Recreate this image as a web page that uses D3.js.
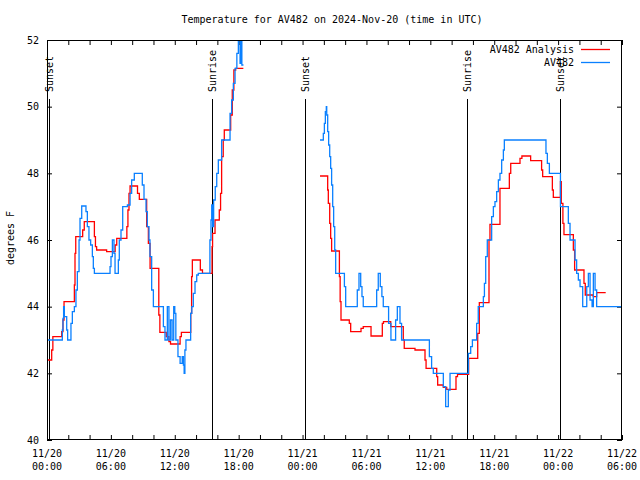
<!DOCTYPE html>
<html>
<head>
<meta charset="utf-8">
<script src="https://cdn.jsdelivr.net/npm/d3@7"></script>
<style>
  html, body { margin: 0; padding: 0; background: #fff; }
  svg { display: block; }
  text { font-family: "DejaVu Sans Mono", "Liberation Mono", monospace; font-size: 10px; fill: #000; }
</style>
</head>
<body>
<svg id="chart" width="640" height="480"></svg>
<script>
// ---------------- DATA ----------------
const chartTitle = "Temperature for AV482 on 2024-Nov-20 (time in UTC)";
const yAxisLabel = "degrees F";
const seriesNames = ["AV482 Analysis", "AV482"];
const seriesColors = ["#ff0000", "#0a80ff"];
const startUTC = Date.UTC(2024, 10, 20, 0, 0); // 11/20 00:00 UTC
const spanHours = 54;
const yTicks = [40, 42, 44, 46, 48, 50, 52];
const xTickHours = [0, 6, 12, 18, 24, 30, 36, 42, 48, 54];
const xTickLabels = ["11/20\n00:00", "11/20\n06:00", "11/20\n12:00", "11/20\n18:00", "11/21\n00:00",
                     "11/21\n06:00", "11/21\n12:00", "11/21\n18:00", "11/22\n00:00", "11/22\n06:00"];
const sunEventLabels = ["Sunset", "Sunrise", "Sunset", "Sunrise", "Sunset"];
const sunEventHours = [0.22, 15.52, 24.23, 39.47, 48.18];

// series values: [hours since 11/20 00:00 UTC, temperature °F]
const analysis1 = [
  [0.00,42.4],[0.44,42.7],[0.55,43.1],[1.38,43.25],[1.50,43.6],[1.60,44.15],[2.57,44.65],[2.63,45.6],
  [2.70,46.1],[3.35,46.3],[3.50,46.55],[4.45,46.1],[4.55,45.8],[4.66,45.7],[5.60,45.65],[6.40,45.85],
  [6.55,46.05],[7.50,46.4],[7.60,46.9],[7.70,47.4],[7.80,47.62],[8.50,47.4],[8.67,47.22],[9.36,46.4],
  [9.52,45.9],[9.68,45.15],[10.50,43.75],[10.60,43.23],[11.20,43.1],[11.45,42.95],[11.60,42.88],
  [12.50,43.1],[12.62,43.23],[13.50,43.8],[13.58,44.9],[13.65,45.4],[14.40,45.1],[14.60,45.0],
  [15.50,45.8],[15.55,46.2],[15.78,46.6],[16.18,46.9],[16.30,47.4],[16.40,48.5],[16.55,49.0],
  [16.65,49.3],[17.25,49.75],[17.40,50.5],[17.55,51.1],[17.72,51.15],[18.44,51.15]
];
const analysis2 = [
  [25.64,47.92],[26.36,47.5],[26.42,47.1],[26.55,46.5],[26.64,46.05],[26.73,45.67],[27.46,44.9],
  [27.53,44.15],[27.61,43.6],[28.39,43.5],[28.52,43.25],[29.49,43.35],[29.70,43.4],[30.43,43.12],
  [31.49,43.5],[31.60,43.55],[32.28,43.4],[33.46,43.0],[33.55,42.75],[34.56,42.7],[35.50,42.4],
  [35.60,42.15],[36.60,41.9],[36.69,41.65],[37.22,41.58],[37.54,41.52],[38.41,41.9],[38.55,41.97],
  [39.60,42.45],[40.45,43.2],[40.60,44.12],[41.51,46.0],[41.60,46.47],[42.54,47.55],[43.42,48.0],
  [43.55,48.3],[44.42,48.45],[44.60,48.52],[45.42,48.38],[46.45,48.1],[46.55,47.9],[47.46,47.5],
  [47.55,47.28],[48.22,47.75],[48.30,47.1],[48.45,46.5],[48.55,46.16],[49.43,45.7],[49.55,45.1],
  [50.43,44.7],[50.55,44.35],[51.30,44.3],[51.62,44.42],[52.47,44.42]
];
const observed1 = [
  [0.00,43.0],[1.44,43.3],[1.50,43.65],[1.56,44.0],[1.63,43.7],[1.85,43.3],[1.94,43.0],[2.25,43.5],
  [2.38,43.85],[2.57,44.0],[2.72,44.5],[2.85,45.05],[3.01,46.0],[3.10,46.65],[3.26,47.02],[3.66,46.85],
  [3.79,46.4],[3.94,46.0],[4.10,45.85],[4.26,45.5],[4.35,45.15],[4.45,45.0],[5.92,45.2],[6.01,45.5],
  [6.14,46.0],[6.29,45.6],[6.39,45.0],[6.70,45.4],[6.79,46.0],[6.95,46.3],[7.11,47.0],[7.55,47.05],
  [7.80,47.4],[7.95,47.8],[8.20,48.0],[8.95,47.65],[9.11,47.22],[9.30,46.85],[9.42,46.4],[9.58,46.0],
  [9.67,45.5],[9.83,44.5],[9.99,44.0],[10.93,43.4],[11.08,43.0],[11.30,44.0],[11.45,43.0],[11.60,43.6],
  [11.75,43.0],[11.90,44.0],[12.00,43.8],[12.10,43.0],[12.30,42.5],[12.50,42.3],[12.70,42.5],
  [12.81,42.25],[12.88,42.0],[12.95,42.7],[13.05,43.0],[13.49,43.8],[13.60,44.0],[13.74,44.4],
  [13.90,44.75],[14.06,44.95],[14.21,45.0],[15.30,46.0],[15.40,46.6],[15.47,47.05],[15.55,46.4],
  [15.65,47.2],[15.80,47.6],[15.94,48.0],[16.09,48.4],[16.40,49.0],[17.19,49.8],[17.34,50.2],
  [17.50,50.7],[17.66,51.15],[17.83,51.6],[17.97,52.5],[18.13,51.3],[18.19,52.5],[18.30,51.25],[18.45,51.25]
];
const observed2 = [
  [25.64,49.0],[25.95,49.2],[26.05,49.5],[26.14,49.85],[26.23,50.0],[26.27,49.75],[26.36,49.25],
  [26.45,48.85],[26.55,48.5],[26.64,48.15],[26.73,47.65],[26.83,47.0],[26.92,46.4],[27.02,45.7],
  [27.11,45.0],[27.93,44.6],[28.05,44.0],[29.14,44.5],[29.30,45.0],[29.46,44.6],[29.58,44.3],[29.70,44.0],
  [30.96,44.5],[31.11,45.0],[31.30,44.6],[31.45,44.3],[31.58,44.0],[32.08,43.5],[32.30,43.0],
  [32.74,43.6],[32.90,44.0],[33.15,43.5],[33.30,43.0],[35.91,42.5],[36.12,42.15],[36.28,42.0],
  [37.22,41.6],[37.44,41.0],[37.69,41.5],[37.85,42.0],[39.57,42.6],[39.79,42.8],[39.95,43.0],
  [40.35,43.5],[40.50,44.0],[40.98,44.3],[41.08,44.7],[41.20,45.5],[41.35,46.0],[41.76,46.7],
  [41.92,47.0],[42.07,47.15],[42.23,47.45],[42.39,47.8],[42.54,48.0],[42.70,48.4],[42.86,48.7],
  [42.95,49.0],[46.86,48.6],[46.99,48.3],[47.18,48.0],[48.22,47.0],[48.96,46.5],[49.12,46.0],
  [49.59,45.4],[49.74,45.0],[49.90,44.8],[50.06,44.6],[50.31,44.0],[50.69,44.6],[50.84,45.0],
  [51.00,44.2],[51.19,44.0],[51.31,45.0],[51.47,44.5],[51.62,44.0],[54.00,44.0]
];

// ---------------- DRAW ----------------
const svg = d3.select("#chart");
const L = 47, R = 622, T = 40, B = 440;
const toDate = h => new Date(startUTC + h * 3600e3);

const x = d3.scaleUtc().domain([toDate(0), toDate(spanHours)]).range([L, R]);
const y = d3.scaleLinear().domain([40, 52]).range([B, T]);

svg.append("rect").attr("width", 640).attr("height", 480).attr("fill", "#fff");

// clip
svg.append("defs").append("clipPath").attr("id", "clip")
  .append("rect").attr("x", L).attr("y", T).attr("width", R - L).attr("height", B - T);

const allTickHours = d3.range(0, spanHours + 0.001, 2);
const majorSet = new Set(xTickHours);

// bottom axis
const gB = svg.append("g").attr("transform", `translate(0,${B})`)
  .call(d3.axisBottom(x).tickValues(allTickHours.map(toDate))
    .tickSizeInner(-5).tickSizeOuter(0).tickPadding(10).tickFormat(() => ""));
gB.select(".domain").remove();
gB.selectAll(".tick line").attr("stroke", "#000");
gB.selectAll(".tick text").remove();
xTickHours.forEach((h, i) => {
  const parts = xTickLabels[i].split("\n");
  const t = svg.append("text").attr("x", x(toDate(h))).attr("y", 457).attr("text-anchor", "middle");
  t.append("tspan").attr("x", x(toDate(h))).text(parts[0]);
  t.append("tspan").attr("x", x(toDate(h))).attr("dy", 13).text(parts[1]);
});

// top axis (mirror ticks)
const gT = svg.append("g").attr("transform", `translate(0,${T})`)
  .call(d3.axisTop(x).tickValues(allTickHours.map(toDate))
    .tickSizeInner(-5).tickSizeOuter(0).tickFormat(() => ""));
gT.select(".domain").remove();
gT.selectAll(".tick text").remove();
gT.selectAll(".tick line").attr("stroke", "#000");

// left axis
const gL = svg.append("g").attr("transform", `translate(${L},0)`)
  .call(d3.axisLeft(y).tickValues(yTicks).tickSizeInner(-5).tickSizeOuter(0).tickPadding(8).tickFormat(d3.format("d")));
gL.select(".domain").remove();
gL.selectAll(".tick line").attr("stroke", "#000");
gL.selectAll(".tick text").attr("font-family", null).attr("font-size", null).attr("fill", "#000");

// right axis
const gR = svg.append("g").attr("transform", `translate(${R},0)`)
  .call(d3.axisRight(y).tickValues(yTicks).tickSizeInner(-5).tickSizeOuter(0).tickFormat(() => ""));
gR.select(".domain").remove();
gR.selectAll(".tick text").remove();
gR.selectAll(".tick line").attr("stroke", "#000");

// sun event lines and labels
sunEventHours.forEach((h, i) => {
  const xp = Math.round(x(toDate(h))) + 0.5;
  svg.append("line").attr("x1", xp).attr("x2", xp).attr("y1", 99).attr("y2", B)
    .attr("stroke", "#000").attr("stroke-width", 1);
  svg.append("text").attr("transform", `translate(${xp},92) rotate(-90)`)
    .attr("dy", "0.35em").attr("text-anchor", "start").text(sunEventLabels[i]);
});

// series lines
const line = d3.line().x(d => x(toDate(d[0]))).y(d => y(d[1])).curve(d3.curveStepAfter);
const gData = svg.append("g").attr("clip-path", "url(#clip)");
[[analysis1, 0], [analysis2, 0], [observed1, 1], [observed2, 1]].forEach(([data, s]) => {
  gData.append("path").datum(data).attr("d", line)
    .attr("fill", "none").attr("stroke", seriesColors[s]).attr("stroke-width", 1.3);
});

// frame
svg.append("rect").attr("x", L + 0.5).attr("y", T + 0.5).attr("width", R - L - 1).attr("height", B - T - 1)
  .attr("fill", "none").attr("stroke", "#000").attr("stroke-width", 1);

// legend
seriesNames.forEach((name, i) => {
  const ly = 49.5 + i * 13;
  svg.append("text").attr("x", 574).attr("y", ly).attr("dy", "0.35em").attr("text-anchor", "end").text(name);
  svg.append("line").attr("x1", 581).attr("x2", 610).attr("y1", ly).attr("y2", ly)
    .attr("stroke", seriesColors[i]).attr("stroke-width", 1.3);
});

// title and y label
svg.append("text").attr("x", 332).attr("y", 23).attr("text-anchor", "middle").text(chartTitle);
svg.append("text").attr("transform", "translate(14,238) rotate(-90)").attr("text-anchor", "middle").text(yAxisLabel);
</script>
</body>
</html>
